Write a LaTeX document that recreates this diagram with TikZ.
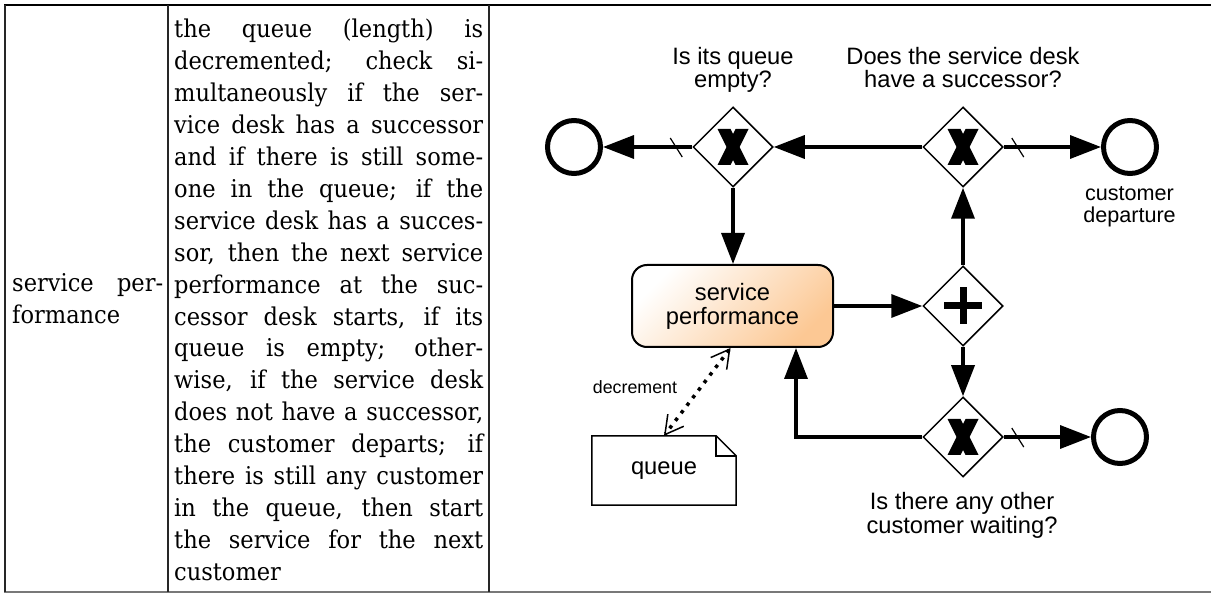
\documentclass[tikz,border=0pt]{standalone}
\usepackage{fontspec}
\setmainfont{DejaVu Serif}[FakeStretch=0.92]
\newfontfamily\lblfont{Liberation Sans}
\usetikzlibrary{arrows.meta,shapes.geometric,calc}
\definecolor{taskorange}{RGB}{252,200,148}
\definecolor{rulegray}{RGB}{120,120,120}

% gateway markers
\newcommand\gatewayX[1]{%
  \begin{scope}[shift={(#1.center)}]
    \fill (-15.5,-18) -- (-2.5,-18) -- (15.5,18) -- (2.5,18) -- cycle;
    \fill (15.5,-18) -- (2.5,-18) -- (-15.5,18) -- (-2.5,18) -- cycle;
  \end{scope}}
\newcommand\gatewayPlus[1]{%
  \begin{scope}[shift={(#1.center)}]
    \fill (-19,-3.5) rectangle (19,3.5);
    \fill (-3.5,-18.5) rectangle (3.5,18.5);
  \end{scope}}

\begin{document}
\begin{tikzpicture}[x=1pt,y=-1pt,
  cell/.style={inner sep=0pt, align=justify,
    font=\fontsize{24.5}{31.9}\selectfont,
    execute at begin node={\hyphenpenalty=10000 \tolerance=10000 \hbadness=10000 }},
  lbl/.style={inner sep=0pt, align=center, font=\lblfont\fontsize{23.7}{23.5}\selectfont},
  smalllbl/.style={inner sep=0pt, align=center, font=\lblfont\fontsize{21.6}{22.5}\selectfont},
  gateway/.style={draw, shape=diamond, minimum width=80pt, minimum height=80pt,
    inner sep=0pt, line width=1.5pt, fill=white},
  endevent/.style={draw, circle, minimum size=53pt, inner sep=0pt, line width=5pt, fill=white},
  task/.style={draw, rounded corners=15pt, line width=2pt, minimum width=201pt,
    minimum height=82pt, inner sep=0pt, align=center,
    top color=white, bottom color=taskorange, shading angle=45,
    font=\lblfont\fontsize{23.7}{24}\selectfont},
  dataobj/.style={minimum width=144pt, minimum height=69pt, inner sep=0pt,
    font=\lblfont\fontsize{23.7}{24}\selectfont},
  flow/.style={line width=3.5pt, -{Triangle[length=31pt,width=23pt]}},
  defaultmark/.style={line width=1.2pt},
  assoc/.style={line width=3.5pt, dash pattern=on 3.5pt off 6pt,
    {Straight Barb[length=18pt,width=20pt,line width=1.5pt]}-{Straight Barb[length=18pt,width=20pt,line width=1.5pt]}},
]
\useasboundingbox (0,0) rectangle (1211,593);

% table rules
\draw[line width=2pt] (4,5) -- (1211,5);
\draw[line width=1.5pt, rulegray] (4,592) -- (1211,592);
\draw[line width=1.5pt, black!85] (5,5) -- (5,592);
\draw[line width=1.5pt, black!85] (168,5) -- (168,592);
\draw[line width=1.5pt, black!85] (489,5) -- (489,592);

% table text
\node[cell, text width=151pt, anchor=base west] (term) at (12,292)
  {service per-\linebreak formance};
\node[cell, text width=309pt, anchor=base west] (desc) at (174,38)
  {the queue (length) is\linebreak
   decremented; check si-\linebreak
   multaneously if the ser-\linebreak
   vice desk has a successor\linebreak
   and if there is still some-\linebreak
   one in the queue; if the\linebreak
   service desk has a succes-\linebreak
   sor, then the next service\linebreak
   performance at the suc-\linebreak
   cessor desk starts, if its\linebreak
   queue is empty; other-\linebreak
   wise, if the service desk\linebreak
   does not have a successor,\linebreak
   the customer departs; if\linebreak
   there is still any customer\linebreak
   in the queue, then start\linebreak
   the service for the next\linebreak
   customer};

% process elements
\node[endevent] (endL) at (574,147) {};
\node[gateway] (gq) at (733,147) {};
\node[gateway] (gs) at (963,147) {};
\node[endevent] (endR) at (1130,147) {};
\node[task] (serve) at (732.5,306) {service\\performance};
\node[gateway] (fork) at (963,306) {};
\node[gateway] (gw) at (963,437) {};
\node[endevent] (endW) at (1120,437) {};
\node[dataobj] (queue) at (664,470.5) {queue};

\gatewayX{gq}
\gatewayX{gs}
\gatewayX{gw}
\gatewayPlus{fork}

% data object outline with folded corner
\draw[line width=1.5pt] (queue.north west) -- ([xshift=-20pt]queue.north east)
  -- ([yshift=-20pt]queue.north east) -- (queue.south east) -- (queue.south west) -- cycle;
\draw[line width=1.5pt] ([xshift=-20pt]queue.north east) -- ([xshift=-20pt,yshift=-20pt]queue.north east)
  -- ([yshift=-20pt]queue.north east);

% labels (base anchor sits on the last line)
\node[lbl, anchor=base] (lq) at (733,88) {Is its queue\\empty?};
\node[lbl, anchor=base] (ls) at (963,88) {Does the service desk\\have a successor?};
\node[smalllbl, anchor=base] (lr) at (1129.5,223) {customer\\departure};
\node[lbl, anchor=base] (lw) at (962,533) {Is there any other\\customer waiting?};
\node[inner sep=0pt, font=\lblfont\fontsize{17.8}{18}\selectfont] (ldec) at (635,387) {decrement};

% sequence flows
\draw[flow] (gq.west) -- (endL);
\draw[flow] (gs.west) -- (gq.east);
\draw[flow] (gs.east) -- (endR);
\draw[flow] (gq.south) -- (gq.south |- serve.north);
\draw[flow] (serve.east) -- (fork.west);
\draw[flow] (fork.north) -- (gs.south);
\draw[flow] (fork.south) -- (gw.north);
\draw[flow] (gw.east) -- (endW);
\draw[flow] (gw.west) -| ([xshift=63.5pt]serve.south);

% default-flow markers
\draw[defaultmark] ([shift={(-22,-9)}]gq.west) -- ([shift={(-10,10)}]gq.west);
\draw[defaultmark] ([shift={(8,-9)}]gs.east) -- ([shift={(20,10)}]gs.east);
\draw[defaultmark] ([shift={(8,-9)}]gw.east) -- ([shift={(20,10)}]gw.east);

% association to the data object
\draw[assoc] ([xshift=-2pt]serve.south) -- (queue.north);
\end{tikzpicture}
\end{document}
